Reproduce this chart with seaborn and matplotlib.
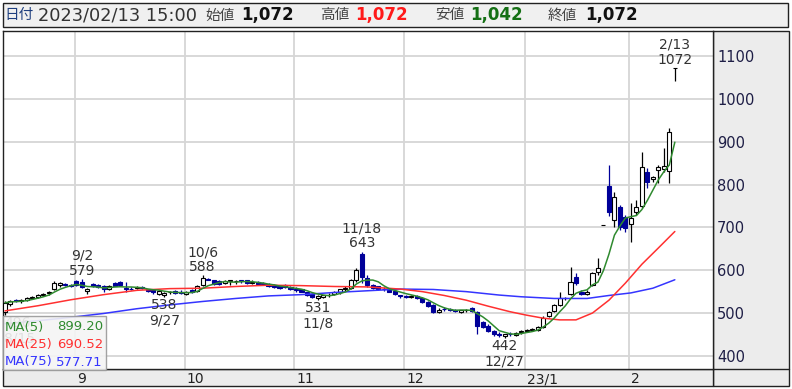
import matplotlib
matplotlib.use("Agg")
import matplotlib.pyplot as plt
import matplotlib.transforms as mtransforms
from matplotlib.patches import Rectangle
from matplotlib.lines import Line2D
import numpy as np
import pandas as pd
import seaborn as sns

# ---------------- data ----------------
dates = [
    "8/15", "8/16", "8/17", "8/18", "8/19", "8/22", "8/23", "8/24", "8/25", "8/26", "8/29", "8/30", "8/31",
    "9/1", "9/2", "9/5", "9/6", "9/7", "9/8", "9/9", "9/12", "9/13", "9/14", "9/15", "9/16", "9/20", "9/21",
    "9/22", "9/26", "9/27", "9/28", "9/29", "9/30",
    "10/3", "10/4", "10/5", "10/6", "10/7", "10/11", "10/12", "10/13", "10/14", "10/17", "10/18", "10/19",
    "10/20", "10/21", "10/24", "10/25", "10/26", "10/27", "10/28", "10/31",
    "11/1", "11/2", "11/4", "11/7", "11/8", "11/9", "11/10", "11/11", "11/14", "11/15", "11/16", "11/17",
    "11/18", "11/21", "11/22", "11/24", "11/25", "11/28", "11/29", "11/30",
    "12/1", "12/2", "12/5", "12/6", "12/7", "12/8", "12/9", "12/12", "12/13", "12/14", "12/15", "12/16",
    "12/19", "12/20", "12/21", "12/22", "12/23", "12/26", "12/27", "12/28", "12/29", "12/30",
    "1/4", "1/5", "1/6", "1/10", "1/11", "1/12", "1/13", "1/16", "1/17", "1/18", "1/19", "1/20", "1/23",
    "1/24", "1/25", "1/26", "1/27", "1/30", "1/31",
    "2/1", "2/2", "2/3", "2/6", "2/7", "2/8", "2/9", "2/10", "2/13",
]

opens = [503, 520, 530, 528, 530, 535, 537, 541, 546, 555, 565, 568, 565,
         575, 572, 552, 568, 565, 563, 556, 570, 572, 558, 556, 558, 560, 555, 553, 545, 542, 548, 552, 550,
         545, 553, 551, 565, 580, 576, 575, 570, 575, 574, 576, 576, 571, 572, 569, 568, 566, 563, 565, 560,
         557, 555, 548, 545, 535, 537, 541, 545, 548, 555, 558, 576, 638, 582, 565, 562, 557, 554, 552, 541,
         540, 537, 539, 535, 526, 518, 503, 510, 509, 507, 502, 506, 512, 503, 478, 470, 458, 452, 447, 451, 449, 455,
         458, 460, 461, 467, 492, 505, 519, 535, 544, 585, 550, 545, 565, 597, 705, 797, 717, 748, 725,
         709, 737, 749, 830, 813, 835, 836, 832, 1072]
highs = [527, 531, 533, 532, 537, 540, 544, 547, 552, 574, 572, 571, 568,
         577, 579, 558, 570, 568, 566, 566, 572, 574, 572, 560, 562, 563, 557, 555, 553, 550, 552, 554, 553,
         552, 555, 565, 588, 582, 578, 577, 576, 578, 578, 578, 578, 576, 574, 572, 570, 567, 566, 567, 562,
         560, 557, 550, 547, 542, 543, 546, 552, 556, 562, 580, 605, 643, 590, 568, 564, 560, 557, 553, 543,
         543, 542, 541, 537, 528, 520, 512, 514, 512, 510, 508, 509, 514, 505, 482, 474, 460, 455, 452, 455, 455, 460,
         463, 464, 470, 492, 505, 521, 550, 538, 608, 593, 553, 553, 595, 628, 705, 846, 783, 752, 730,
         757, 765, 877, 838, 820, 845, 885, 932, 1072]
lows = [496, 516, 525, 524, 528, 532, 535, 539, 543, 553, 560, 562, 560,
        562, 558, 544, 560, 558, 550, 554, 562, 563, 550, 553, 555, 556, 549, 545, 542, 538, 544, 545, 544,
        542, 546, 549, 563, 576, 566, 565, 567, 566, 567, 570, 568, 568, 566, 565, 561, 558, 557, 558, 554,
        550, 548, 540, 535, 531, 534, 538, 543, 545, 552, 556, 573, 570, 560, 556, 553, 552, 548, 543, 536,
        535, 534, 533, 524, 514, 500, 500, 505, 505, 502, 500, 503, 503, 452, 465, 455, 447, 445, 442, 446, 446, 452,
        455, 457, 459, 465, 490, 503, 517, 530, 542, 565, 543, 542, 562, 590, 705, 726, 702, 695, 690,
        667, 730, 745, 792, 805, 804, 830, 803, 1042]
closes = [524, 528, 528, 530, 535, 538, 542, 545, 550, 570, 570, 565, 564,
          565, 560, 556, 562, 560, 555, 564, 563, 565, 557, 555, 560, 558, 551, 548, 551, 547, 549, 546, 546,
          550, 548, 562, 581, 578, 568, 567, 574, 576, 575, 574, 569, 572, 568, 567, 562, 560, 559, 560, 556,
          553, 550, 542, 537, 540, 541, 543, 549, 555, 558, 577, 600, 585, 565, 558, 556, 555, 550, 545, 539,
          538, 540, 535, 526, 516, 503, 507, 509, 508, 505, 506, 507, 505, 470, 468, 458, 450, 448, 451, 450, 453, 458,
          460, 462, 467, 488, 503, 519, 535, 535, 573, 569, 544, 550, 593, 605, 705, 735, 772, 700, 698,
          721, 748, 842, 807, 818, 841, 843, 922, 1072]

# moving averages (25 / 75 at sample dates)
ma25_dates = ["8/15", "8/23", "8/31", "9/8", "9/16", "9/28", "10/6", "10/17", "10/25", "11/2", "11/11",
              "11/21", "11/30", "12/6", "12/12", "12/16", "12/22", "12/28", "1/4", "1/10", "1/13", "1/18",
              "1/23", "1/26", "1/31", "2/3", "2/8", "2/13"]
ma25_vals = [505, 517, 531, 543, 553, 557, 558, 562, 565, 564, 562, 561, 556, 550, 541, 530, 516, 503,
             495, 488, 484, 484, 500, 530, 570, 614, 652, 690.52]
ma75_dates = ["8/15", "8/23", "8/31", "9/8", "9/16", "9/28", "10/6", "10/17", "10/25", "11/2", "11/11",
              "11/21", "11/30", "12/8", "12/16", "12/26", "12/30", "1/12", "1/20", "1/26", "2/1", "2/7", "2/13"]
ma75_vals = [475, 482, 490, 499, 510, 519, 527, 534, 540, 543, 548, 552, 556, 555, 550, 542, 538, 534,
             534, 541, 547, 558, 577.71]

# high / low annotations: (date, kind, value)
marks = [("8/15", "low", 496), ("9/2", "high", 579), ("9/27", "low", 538), ("10/6", "high", 588),
         ("11/8", "low", 531), ("11/18", "high", 643), ("12/27", "low", 442), ("2/13", "high", 1072)]

month_starts = ["9/1", "10/3", "11/1", "12/1", "1/4", "2/1"]
month_labels = ["9", "10", "11", "12", "23/1", "2"]
yticks = [400, 500, 600, 700, 800, 900, 1000, 1100]

header_date = "2023/02/13 15:00"

# ---------------- style ----------------
sns.set_style("white")
plt.rcParams['font.family'] = ['DejaVu Sans', 'Noto Sans CJK JP']

W, H = 792, 389
fig = plt.figure(figsize=(W / 100, H / 100), dpi=100)
fig.patch.set_facecolor('white')


def fx(px):
    return px / W


def fy(py):
    return 1 - py / H


n = len(dates)
idx = np.arange(n)
pos = {d: i for i, d in enumerate(dates)}

ax = fig.add_axes([fx(2.5), fy(369), fx(713) - fx(2.5), fy(31) - fy(369)])
ax.set_facecolor('white')
XMIN, XMAX = -0.45, 128.95
ax.set_xlim(XMIN, XMAX)
ax.set_ylim(369.2, 1159)
ax.set_axisbelow(True)

# grid / ticks
ax.set_yticks(yticks)
ax.set_yticklabels([str(v) for v in yticks])
ax.yaxis.tick_right()
ax.tick_params(axis='y', length=0, pad=3, labelsize=10.5, labelcolor='#1e1e46')
ax.set_xticks([pos[d] - 0.3 for d in month_starts])
ax.set_xticklabels(month_labels)
ax.tick_params(axis='x', length=0, pad=2.5, labelsize=10, labelcolor='#222222')
offset = mtransforms.ScaledTranslation(2 / 100, 0, fig.dpi_scale_trans)
for lab in ax.get_xticklabels():
    lab.set_ha('left')
    lab.set_transform(lab.get_transform() + offset)
ax.grid(True, color='#d6d6d6', lw=1.3)
for s in ax.spines.values():
    s.set_color('#222222')
    s.set_linewidth(1)

# candles
o = np.array(opens, float)
h = np.array(highs, float)
l = np.array(lows, float)
c = np.array(closes, float)
up = c >= o
DOWN = '#000099'
for mask, face, edge in [(up, 'white', 'black'), (~up, DOWN, DOWN)]:
    ax.vlines(idx[mask], l[mask], h[mask], color=edge, lw=0.9, zorder=3)
    ax.bar(idx[mask], np.abs(c - o)[mask], bottom=np.minimum(o, c)[mask], width=0.74,
           facecolor=face, edgecolor=edge, linewidth=0.8, zorder=4)

# moving averages
ma5 = pd.Series(c).rolling(5, min_periods=1).mean()
df5 = pd.DataFrame({"x": idx, "y": ma5})
df25 = pd.DataFrame({"x": [pos[d] for d in ma25_dates], "y": ma25_vals})
df75 = pd.DataFrame({"x": [pos[d] for d in ma75_dates], "y": ma75_vals})
GREEN, RED, BLUE = '#2f8a2f', '#ff3030', '#3535ff'
sns.lineplot(data=df75, x="x", y="y", ax=ax, color=BLUE, lw=1.1, zorder=5)
sns.lineplot(data=df25, x="x", y="y", ax=ax, color=RED, lw=1.1, zorder=5)
sns.lineplot(data=df5, x="x", y="y", ax=ax, color=GREEN, lw=1.1, zorder=5)
ax.set_xlabel("")
ax.set_ylabel("")

# annotations (kept inside the plot near the left edge)
for d, kind, v in marks:
    sgn = 1 if kind == "high" else -1
    xi = pos[d]
    if xi < 3:
        xa, ha = XMIN + 0.3, 'left'
    else:
        xa, ha = xi, 'center'
    ax.annotate(str(v), xy=(xa, v), xytext=(0, sgn * 6.0), textcoords='offset points',
                ha=ha, va='center', fontsize=10, color='#333333', zorder=6)
    ax.annotate(d, xy=(xa, v), xytext=(0, sgn * 16.8), textcoords='offset points',
                ha=ha, va='center', fontsize=10, color='#333333', zorder=6)

# panels / borders
fig.add_artist(Rectangle((fx(713), fy(386)), fx(789) - fx(713), fy(31) - fy(386), transform=fig.transFigure,
                         facecolor='#ececec', edgecolor='#222222', lw=1, zorder=-1))
fig.add_artist(Rectangle((fx(2.5), fy(386)), fx(713) - fx(2.5), fy(369) - fy(386), transform=fig.transFigure,
                         facecolor='#ececec', edgecolor='#222222', lw=1, zorder=-1))
fig.add_artist(Line2D([fx(713), fx(789)], [fy(369), fy(369)], transform=fig.transFigure, color='#222222', lw=1))

# header
fig.add_artist(Rectangle((fx(3), fy(27)), fx(788) - fx(3), fy(3) - fy(27), transform=fig.transFigure,
                         facecolor='#f0f0f0', edgecolor='#222222', lw=1, zorder=-1))
hy = fy(15)
fig.text(fx(4), hy, "日付", fontsize=10.5, color='#1f3f7f', ha='left', va='center')
fig.text(fx(38), hy, header_date, fontsize=12.8, color='#333333', ha='left', va='center')
items = [("始値", f"{opens[-1]:,}", '#111111', 205, 241),
         ("高値", f"{highs[-1]:,}", '#ff1a1a', 320, 355),
         ("安値", f"{lows[-1]:,}", '#157015', 435, 470),
         ("終値", f"{closes[-1]:,}", '#111111', 548, 585)]
for lab, val, col, xl, xv in items:
    fig.text(fx(xl), hy, lab, fontsize=10.5, color='#444444', ha='left', va='center')
    fig.text(fx(xv), hy, val, fontsize=12, color=col, ha='left', va='center', fontweight='bold')

# MA legend box (semi-transparent, as in the reference)
fig.add_artist(Rectangle((fx(3), fy(370)), fx(106) - fx(3), fy(316) - fy(370), transform=fig.transFigure,
                         facecolor='#f4f4f4', edgecolor='#999999', lw=1, alpha=0.9, zorder=5))
for k, (lab, val, col) in enumerate([("MA(5)", ma5.iloc[-1], GREEN), ("MA(25)", ma25_vals[-1], RED),
                                     ("MA(75)", ma75_vals[-1], BLUE)]):
    yy = fy(327 + 17.5 * k)
    fig.text(fx(5), yy, lab, fontsize=9.5, color=col, ha='left', va='center', zorder=6)
    fig.text(fx(103), yy, f"{val:.2f}", fontsize=9.5, color=col, ha='right', va='center', zorder=6)

fig.savefig("out.png", dpi=100, facecolor=fig.get_facecolor())
